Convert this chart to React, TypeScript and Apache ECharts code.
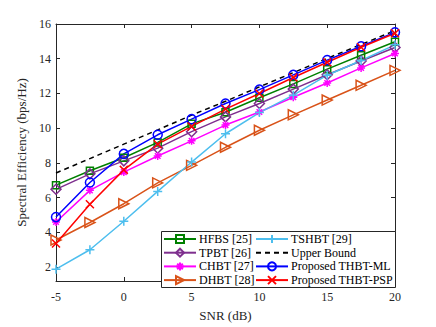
import React, { useEffect, useRef } from "react";
import * as echarts from "echarts";

const snr = [-5, -2.5, 0, 2.5, 5, 7.5, 10, 12.5, 15, 17.5, 20];
const hfbs = [6.72, 7.55, 8.3, 9.18, 10.25, 10.92, 11.75, 12.55, 13.4, 14.2, 14.98];
const tpbt = [6.48, 7.37, 8.12, 8.85, 9.8, 10.65, 11.42, 12.25, 13.08, 13.87, 14.65];
const chbt = [4.6, 6.42, 7.47, 8.4, 9.27, 10.18, 10.93, 11.78, 12.6, 13.47, 14.3];
const dhbt = [3.56, 4.57, 5.65, 6.85, 7.86, 8.9, 9.88, 10.77, 11.62, 12.47, 13.33];
const tshbt = [1.88, 3.0, 4.64, 6.36, 8.05, 9.68, 10.9, 11.9, 13.05, 13.9, 14.8];
const upper = [7.42, 8.25, 9.08, 9.9, 10.75, 11.55, 12.38, 13.2, 14.02, 14.82, 15.62];
const thbtML = [4.88, 6.87, 8.52, 9.62, 10.52, 11.42, 12.22, 13.07, 13.92, 14.72, 15.52];
const thbtPSP = [3.36, 5.62, 7.6, 9.08, 10.1, 11.1, 12.0, 12.92, 13.8, 14.66, 15.47];

const yTicks = [2, 4, 6, 8, 10, 12, 14, 16];

const names = [
  "HFBS [25]",
  "TPBT [26]",
  "CHBT [27]",
  "DHBT [28]",
  "TSHBT [29]",
  "Upper Bound",
  "Proposed THBT-ML",
  "Proposed THBT-PSP",
];

const PLUS = "path://M5 0 L5 10 M0 5 L10 5";
const CROSS = "path://M0 0 L10 10 M10 0 L0 10";
const STAR = "path://M5 0 L5 10 M0 5 L10 5 M1.5 1.5 L8.5 8.5 M8.5 1.5 L1.5 8.5";

const FONT = "Liberation Serif";
const AX = "#262626";

export default function App() {
  const ref = useRef<HTMLDivElement>(null);
  useEffect(() => {
    if (!ref.current) return;
    const chart = echarts.init(ref.current, undefined, { renderer: "svg" });
    const mk = (
      name: string,
      data: number[],
      color: string,
      symbol: string,
      size: number,
      extra: any = {}
    ) => ({
      name,
      type: "line",
      data: snr.map((x, i) => [x, data[i]]),
      symbol,
      symbolSize: size,
      color,
      lineStyle: { color, width: 1.5, ...(extra.lineStyle || {}) },
      itemStyle: extra.hideSymbol
        ? { color: "transparent", borderColor: "transparent", borderWidth: 0 }
        : { color: "transparent", borderColor: color, borderWidth: 1.5 },
      symbolRotate: extra.rotate || 0,
      showSymbol: extra.hideSymbol ? false : true,
      emphasis: { disabled: true },
      z: 2,
    });
    const series = [
      mk(names[0], hfbs, "#008000", "rect", 7),
      mk(names[1], tpbt, "#7E2F8E", "diamond", 10),
      mk(names[2], chbt, "#FF00FF", STAR, 8),
      mk(names[3], dhbt, "#D95319", "triangle", 10, { rotate: -90 }),
      mk(names[4], tshbt, "#4DBEEE", PLUS, 9),
      mk(names[5], upper, "#000000", "circle", 4, { lineStyle: { type: [5, 4] }, hideSymbol: true }),
      mk(names[6], thbtML, "#0000FF", "circle", 9),
      mk(names[7], thbtPSP, "#FF0000", CROSS, 8),
    ];
    const legendCommon = {
      orient: "vertical",
      itemWidth: 32,
      itemHeight: 10,
      itemGap: 1.7,
      padding: 0,
      z: 20,
      textStyle: { fontFamily: FONT, fontSize: 12, color: "#000", padding: [0, 0, 0, -2] },
      selectedMode: false,
    };
    const axLine = { show: true, onZero: false, lineStyle: { color: AX, width: 1 } };
    chart.setOption({
      animation: false,
      backgroundColor: "#fff",
      grid: { left: 56, right: 41, top: 24, bottom: 38 },
      xAxis: [
        {
          type: "value",
          min: -5,
          max: 20,
          interval: 5,
          name: "SNR (dB)",
          nameLocation: "middle",
          nameGap: 28,
          nameTextStyle: { fontFamily: FONT, fontSize: 13, color: AX },
          axisLine: axLine,
          axisTick: { inside: true, length: 4, lineStyle: { color: AX } },
          axisLabel: { fontFamily: FONT, fontSize: 12, color: AX, margin: 10 },
          splitLine: { show: false },
        },
        {
          type: "value",
          position: "top",
          min: -5,
          max: 20,
          interval: 5,
          axisLine: axLine,
          axisTick: { inside: true, length: 4, lineStyle: { color: AX } },
          axisLabel: { show: false },
          splitLine: { show: false },
        },
      ],
      yAxis: [
        {
          type: "value",
          min: 1.2,
          max: 16,
          name: "Spectral Efficiency (bps/Hz)",
          nameLocation: "middle",
          nameGap: 18,
          nameTextStyle: { fontFamily: FONT, fontSize: 13, color: AX },
          axisLine: axLine,
          axisTick: { show: true, inside: true, length: 4, lineStyle: { color: AX }, customValues: yTicks },
          axisLabel: { fontFamily: FONT, fontSize: 12, color: AX, margin: 5, customValues: yTicks },
          splitLine: { show: false },
        },
        {
          type: "value",
          position: "right",
          min: 1.2,
          max: 16,
          axisLine: axLine,
          axisTick: { show: true, inside: true, length: 4, lineStyle: { color: AX }, customValues: yTicks },
          axisLabel: { show: false },
          splitLine: { show: false },
        },
      ],
      legend: [
        { ...legendCommon, left: 163, top: 233, data: names.slice(0, 4) },
        { ...legendCommon, left: 255, top: 233, data: names.slice(4, 8) },
      ],
      graphic: [
        {
          type: "rect",
          left: 161,
          top: 231,
          z: 10,
          shape: { width: 234, height: 56 },
          style: { fill: "#fff", stroke: AX, lineWidth: 1 },
        },
      ],
      series,
    });
    return () => chart.dispose();
  }, []);
  return (
    <div
      ref={ref}
      style={{ position: "fixed", left: 0, top: 0, width: 436, height: 327 }}
    />
  );
}
